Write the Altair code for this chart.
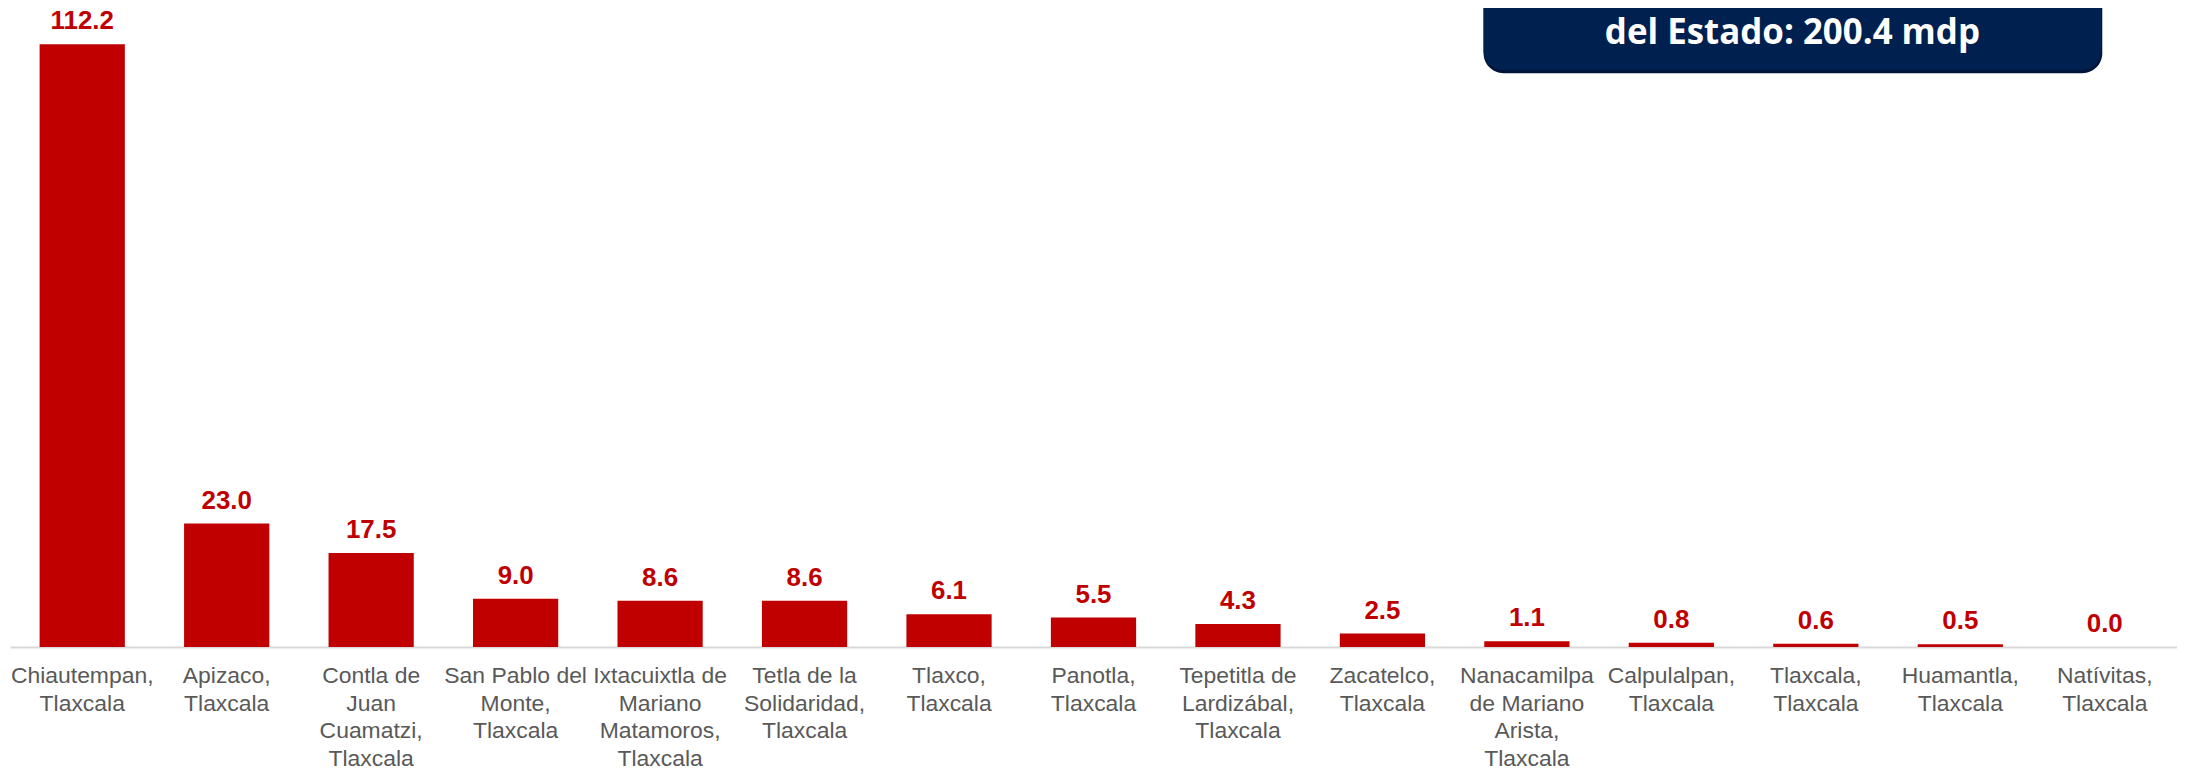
import altair as alt
import pandas as pd

municipios = [
    "Chiautempan,\nTlaxcala",
    "Apizaco,\nTlaxcala",
    "Contla de\nJuan\nCuamatzi,\nTlaxcala",
    "San Pablo del\nMonte,\nTlaxcala",
    "Ixtacuixtla de\nMariano\nMatamoros,\nTlaxcala",
    "Tetla de la\nSolidaridad,\nTlaxcala",
    "Tlaxco,\nTlaxcala",
    "Panotla,\nTlaxcala",
    "Tepetitla de\nLardizábal,\nTlaxcala",
    "Zacatelco,\nTlaxcala",
    "Nanacamilpa\nde Mariano\nArista,\nTlaxcala",
    "Calpulalpan,\nTlaxcala",
    "Tlaxcala,\nTlaxcala",
    "Huamantla,\nTlaxcala",
    "Natívitas,\nTlaxcala",
]
valores = [112.2, 23.0, 17.5, 9.0, 8.6, 8.6, 6.1, 5.5, 4.3, 2.5, 1.1, 0.8, 0.6, 0.5, 0.0]
caja_texto = ["del Estado: 200.4 mdp"]

df = pd.DataFrame({"municipio": municipios, "valor": valores})
box_df = pd.DataFrame({"t": caja_texto})

W = 2175
H = 640
RED = "#C00000"

x_enc = alt.X(
    "municipio:N",
    sort=None,
    scale=alt.Scale(paddingInner=0.41, paddingOuter=0.205),
    axis=alt.Axis(
        title=None,
        labelAngle=0,
        ticks=False,
        domainColor="#D9D9D9",
        domainWidth=2,
        labelColor="#595959",
        labelFont="Liberation Sans",
        labelFontSize=23,
        labelLineHeight=27.5,
        labelPadding=18,
        labelLimit=0,
        labelBaseline="top",
        labelExpr="split(datum.label, '\\n')",
    ),
)
y_enc = alt.Y("valor:Q", scale=alt.Scale(domain=[0, 118.7], nice=False, zero=True), axis=None)

base = alt.Chart(df).encode(x=x_enc, y=y_enc)

bars = base.mark_bar(color=RED)
labels = base.mark_text(
    color=RED,
    font="Liberation Sans",
    fontSize=26,
    fontWeight="bold",
    baseline="alphabetic",
    dy=-15,
).encode(text=alt.Text("valor:Q", format=".1f"))

shadow = alt.Chart(box_df).mark_rect(color="#00143A", cornerRadius=20).encode(
    x=alt.value(1479), x2=alt.value(2100), y=alt.value(-40), y2=alt.value(64)
)
box = alt.Chart(box_df).mark_rect(color="#00204F", cornerRadius=20).encode(
    x=alt.value(1479), x2=alt.value(2099), y=alt.value(-40), y2=alt.value(61)
)
box_text = alt.Chart(box_df).mark_text(
    color="white",
    font="Open Sans",
    fontSize=35,
    fontWeight="bold",
    baseline="alphabetic",
    align="center",
).encode(x=alt.value(1789), y=alt.value(35), text="t:N")

chart = (
    alt.layer(bars, labels, shadow, box, box_text)
    .properties(
        width=W,
        height=H,
        background="white",
        autosize=alt.AutoSizeParams(type="none"),
        padding={"left": 2, "top": 0, "right": 0, "bottom": 122},
    )
    .configure_view(strokeWidth=0, stroke="transparent")
)

chart.save("out.html", embed_options={"renderer": "svg", "actions": False})
